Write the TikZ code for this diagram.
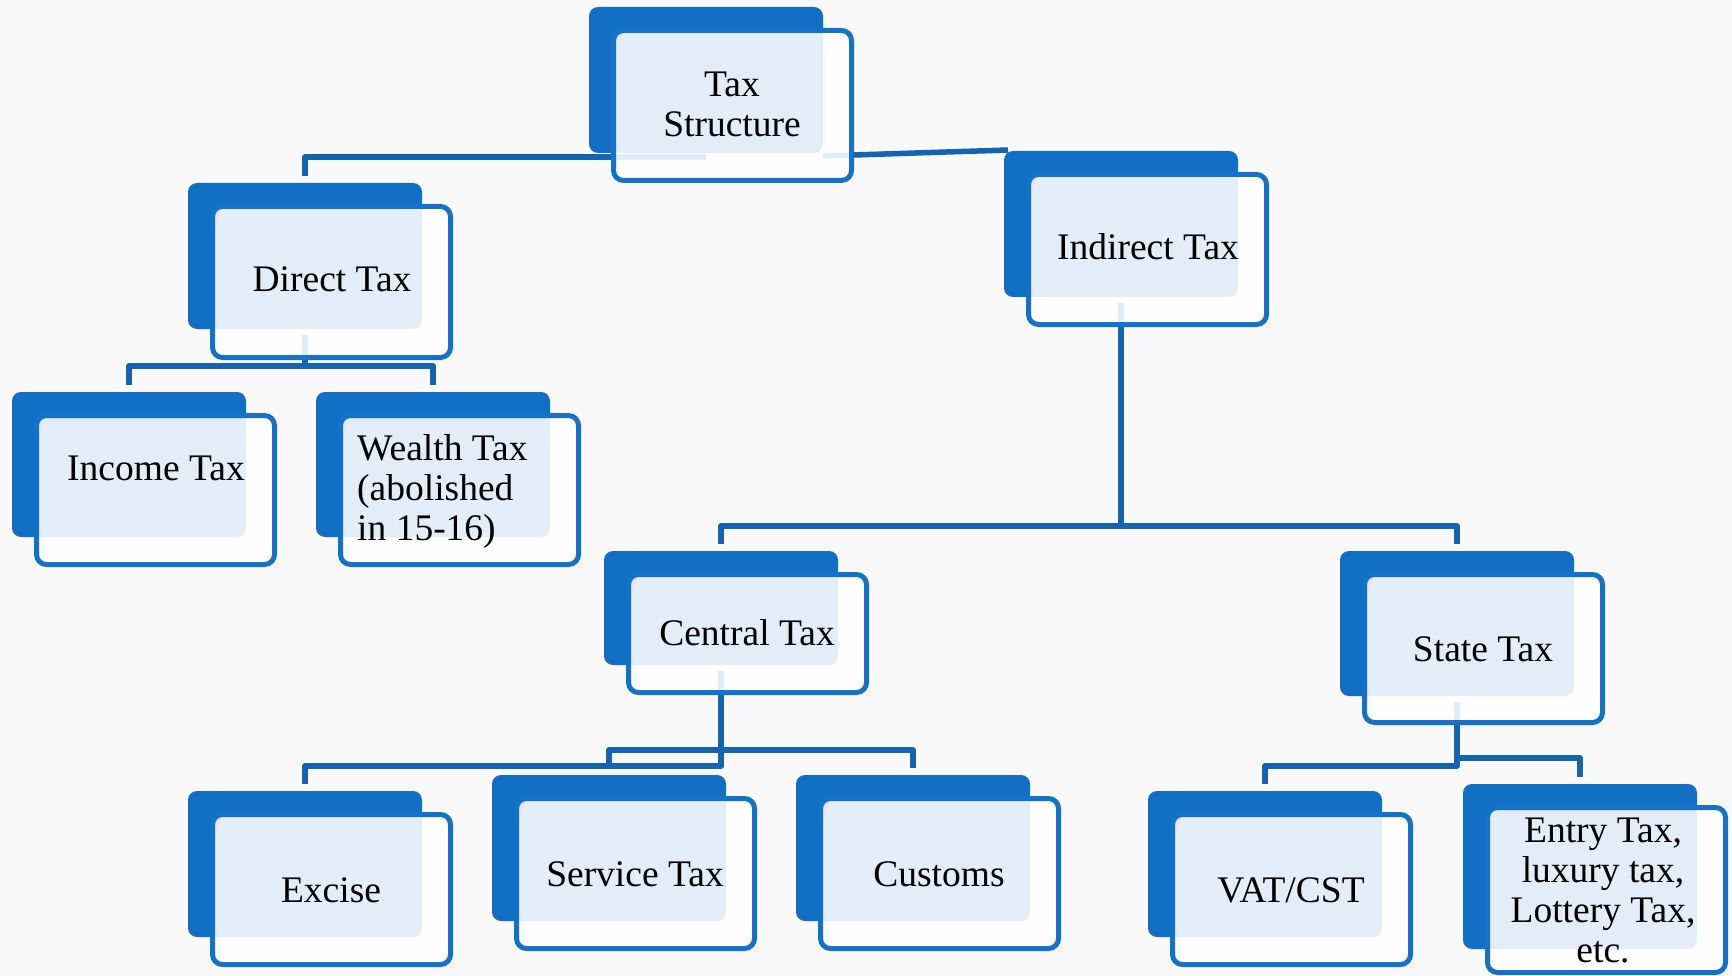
\documentclass[tikz,border=0pt]{standalone}
\usepackage{fontspec}
\setmainfont{Liberation Serif}
\usetikzlibrary{calc}
\definecolor{bgc}{RGB}{249,249,249}
\definecolor{dkb}{RGB}{17,112,197}
\definecolor{lnb}{RGB}{20,100,178}
\definecolor{frb}{RGB}{22,114,200}
\pgfdeclarelayer{bgl}
\pgfdeclarelayer{cnl}
\pgfsetlayers{bgl,cnl,main}
\tikzset{
  backbox/.style={rectangle, rounded corners=9pt, fill=dkb, draw=none, inner sep=0pt, outer sep=0pt, anchor=north west, minimum width=234pt},
  frontbox/.style={rectangle, rounded corners=10pt, fill=white, fill opacity=0.88, draw=frb, draw opacity=1, line width=5pt, inner sep=0pt, anchor=north west, minimum width=238pt},
  lbl/.style={font=\fontsize{37.5}{40}\selectfont, inner sep=0pt, text=black},
  conn/.style={draw=lnb, line width=5.5pt, line join=round}
}
\newcommand{\taxbox}[5]{%
  \node[backbox, minimum height=#4pt] (#1-b) at (#2,#3) {};
  \node[frontbox, minimum height=#5pt] (#1) at (#2+22,#3+21) {};
}
\begin{document}
\begin{tikzpicture}[x=1pt,y=-1pt]
\useasboundingbox (0,0) rectangle (1732,976);
\begin{pgfonlayer}{bgl}
  \fill[bgc] (0,0) rectangle (1732,976);
\end{pgfonlayer}

\taxbox{tax}{589}{7}{146}{150}
\taxbox{dir}{188}{183}{146}{151}
\taxbox{ind}{1004}{151}{146}{150}
\taxbox{inc}{12}{392}{145}{149}
\taxbox{wea}{316}{392}{145}{149}
\taxbox{cen}{604}{551}{114}{118}
\taxbox{sta}{1340}{551}{145}{148}
\taxbox{exc}{188}{791}{146}{150}
\taxbox{ser}{492}{775}{146}{150}
\taxbox{cus}{796}{775}{146}{150}
\taxbox{vat}{1148}{791}{146}{150}
\taxbox{ent}{1463}{784}{165}{165}

\coordinate (dirj) at (305,366);
\coordinate (indj) at (1121,526);
\coordinate (cj1) at (721,750);
\coordinate (cj2) at (721,766);
\coordinate (sj1) at (1457,758);
\coordinate (sj2) at (1457,766);

\begin{pgfonlayer}{cnl}
  \draw[conn] ([yshift=-4pt]tax-b.south) -| ([yshift=7pt]dir-b.north);
  \draw[conn] ([yshift=-3pt]tax-b.south east) -- ([xshift=4pt,yshift=1pt]ind-b.north west);
  \draw[conn] ([yshift=-6pt]dir-b.south) -- (dirj) -| ([yshift=7pt]inc-b.north);
  \draw[conn] (dirj) -| ([yshift=7pt]wea-b.north);
  \draw[conn] ([yshift=-6pt]ind-b.south) -- (indj) -| ([yshift=7pt]cen-b.north);
  \draw[conn] (indj) -| ([yshift=7pt]sta-b.north);
  \draw[conn] ([yshift=-6pt]cen-b.south) -- (cj2) -| ([yshift=7pt]exc-b.north);
  \draw[conn] (cj1) -| ([yshift=7pt]ser-b.north);
  \draw[conn] (cj1) -| ([yshift=7pt]cus-b.north);
  \draw[conn] ([yshift=-6pt]sta-b.south) -- (sj2) -| ([yshift=7pt]vat-b.north);
  \draw[conn] (sj1) -| ([yshift=7pt]ent-b.north);
\end{pgfonlayer}

\node[lbl, align=center, anchor=base] (tax-t) at (732,137) {Tax\\Structure};
\node[lbl, anchor=base] (dir-t) at (332,292) {Direct Tax};
\node[lbl, anchor=base] (ind-t) at (1148,260) {Indirect Tax};
\node[lbl, anchor=base] (inc-t) at (156,480) {Income Tax};
\node[lbl, align=left, anchor=base west] (wea-t) at (357,540) {Wealth Tax\\(abolished\\in 15-16)};
\node[lbl, anchor=base] (cen-t) at (747,645) {Central Tax};
\node[lbl, anchor=base] (sta-t) at (1483,661) {State Tax};
\node[lbl, anchor=base] (exc-t) at (331,902) {Excise};
\node[lbl, anchor=base] (ser-t) at (635,886) {Service Tax};
\node[lbl, anchor=base] (cus-t) at (939,886) {Customs};
\node[lbl, anchor=base] (vat-t) at (1291,902) {VAT/CST};
\node[lbl, align=center, anchor=base] (ent-t) at (1603,962) {Entry Tax,\\luxury tax,\\Lottery Tax,\\etc.};
\end{tikzpicture}
\end{document}
